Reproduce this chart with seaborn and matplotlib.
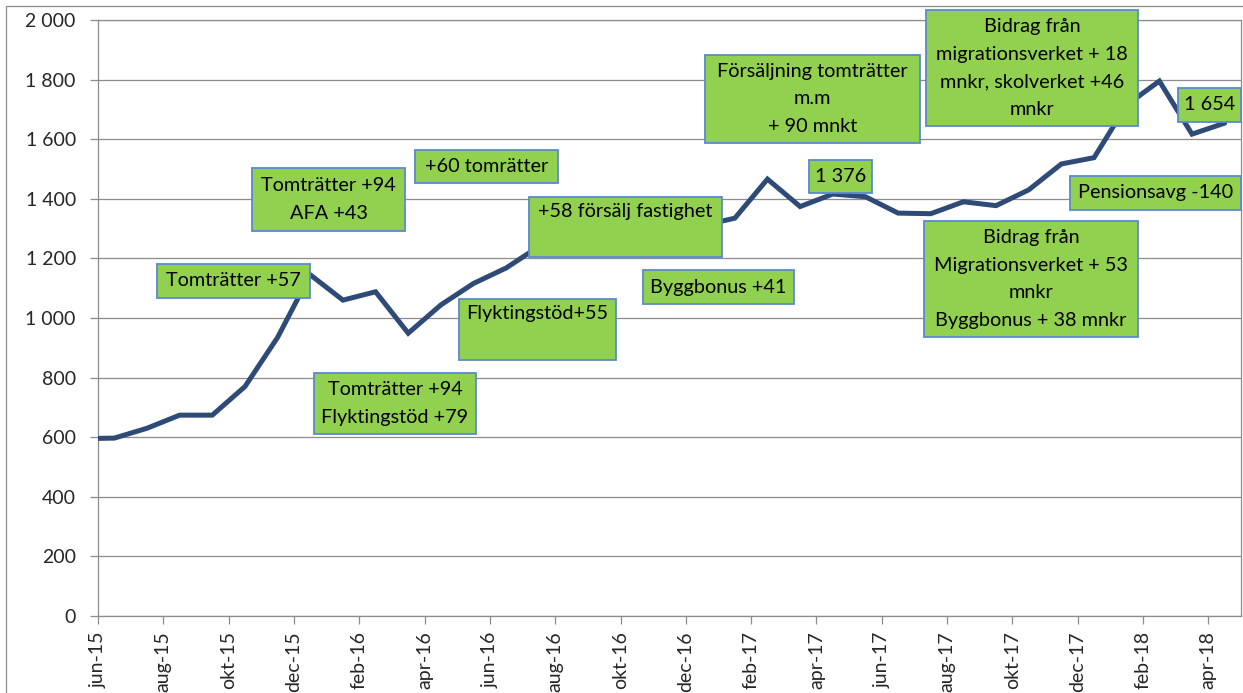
import numpy as np
import pandas as pd
import matplotlib
matplotlib.use("Agg")
from matplotlib import pyplot as plt
from matplotlib.patches import Rectangle
import seaborn as sns

# monthly series, maj-15 .. apr-18 (first month only enters at the left edge)
months = ["maj-15", "jun-15", "jul-15", "aug-15", "sep-15", "okt-15", "nov-15", "dec-15",
          "jan-16", "feb-16", "mar-16", "apr-16", "maj-16", "jun-16", "jul-16", "aug-16",
          "sep-16", "okt-16", "nov-16", "dec-16", "jan-17", "feb-17", "mar-17", "apr-17",
          "maj-17", "jun-17", "jul-17", "aug-17", "sep-17", "okt-17", "nov-17", "dec-17",
          "jan-18", "feb-18", "mar-18", "apr-18"]
values = [595, 597, 630, 674, 674, 770, 935, 1145,
          1060, 1088, 949, 1044, 1116, 1168, 1240, 1290,
          1285, 1300, 1295, 1310, 1335, 1466, 1374, 1416,
          1407, 1352, 1350, 1390, 1377, 1430, 1517, 1538,
          1715, 1795, 1617, 1654]
y_ticks = [0, 200, 400, 600, 800, 1000, 1200, 1400, 1600, 1800, 2000]

# annotation boxes: pixel extents (left, top, right, bottom), text, text placement
notes = [
    ((157, 264, 310, 298), "Tomträtter +57", "center"),
    ((314, 373, 476, 434), "Tomträtter +94\nFlyktingstöd +79", "center"),
    ((459, 299, 616, 360), "Flyktingstöd+55", "top"),
    ((252, 168, 405, 231), "Tomträtter +94\nAFA +43", "center"),
    ((415, 150, 558, 183), "+60 tomrätter", "center"),
    ((529, 197, 722, 257), "+58 försälj fastighet", "top"),
    ((643, 270, 794, 304), "Byggbonus +41", "center"),
    ((809, 160, 872, 193), "1 376", "center"),
    ((705, 55, 920, 143), "Försäljning tomträtter\nm.m\n+ 90 mnkt", "center"),
    ((926, 10, 1138, 126), "Bidrag från\nmigrationsverket + 18\nmnkr, skolverket +46\nmnkr", "center"),
    ((1178, 88, 1241, 122), "1 654", "center"),
    ((1070, 176, 1241, 210), "Pensionsavg -140", "center"),
    ((924, 221, 1138, 337), "Bidrag från\nMigrationsverket + 53\nmnkr\nByggbonus + 38 mnkr", "center"),
]

W, H = 1243, 693
AX_L, AX_R, AX_T, AX_B = 98, 1241, 20, 616

sns.set_style("white")
plt.rcParams['font.family'] = ['Lato', 'DejaVu Sans']

df = pd.DataFrame({"pos": np.arange(len(months)), "value": values})

fig = plt.figure(figsize=(W / 100, H / 100), dpi=100)
ax = fig.add_axes([AX_L / W, (H - AX_B) / H, (AX_R - AX_L) / W, (AX_B - AX_T) / H])

sns.lineplot(data=df, x="pos", y="value", ax=ax, color="#2E4A76", linewidth=3.6,
             solid_joinstyle="miter", zorder=3)

ax.set_xlim(0.5, len(months) - 0.5)
ax.set_ylim(0, 2000)
ax.set_yticks(y_ticks)
ax.set_yticklabels([f"{v:,}".replace(",", " ") for v in y_ticks], fontsize=14)
tick_pos = np.arange(0.5, len(months) - 0.5, 2)
ax.set_xticks(tick_pos)
ax.set_xticklabels(months[1::2], rotation=90, fontsize=14, va="top", ha="center")
ax.set_xlabel("")
ax.set_ylabel("")

ax.grid(axis="y", color="#8C8C8C", linewidth=0.9, zorder=0)
ax.grid(axis="x", visible=False)
for side in ["left", "bottom", "right", "top"]:
    ax.spines[side].set_visible(True)
    ax.spines[side].set_color("#8C8C8C")
    ax.spines[side].set_linewidth(0.9)
ax.tick_params(axis="both", which="both", length=6, width=0.9, color="#8C8C8C",
               direction="out", left=True, bottom=True)
ax.tick_params(axis="x", pad=5)
ax.tick_params(axis="y", pad=10)


def to_axes(px, py):
    return (px - AX_L) / (AX_R - AX_L), (AX_B - py) / (AX_B - AX_T)


for (l, t, r, b), text, place in notes:
    x0, y1 = to_axes(l, t)
    x1, y0 = to_axes(r, b)
    ax.add_patch(Rectangle((x0, y0), x1 - x0, y1 - y0, transform=ax.transAxes,
                           facecolor="#92D050", edgecolor="#5B8ACB", linewidth=1.3,
                           zorder=5, clip_on=False))
    if place == "center":
        ax.text((x0 + x1) / 2, (y0 + y1) / 2, text, transform=ax.transAxes,
                ha="center", va="center", fontsize=14.3, linespacing=1.75,
                color="black", zorder=6)
    else:
        ax.text((x0 + x1) / 2, y1 - 6 / (AX_B - AX_T), text, transform=ax.transAxes,
                ha="center", va="top", fontsize=14.3, linespacing=1.75,
                color="black", zorder=6)

# outer chart border
fig.patches.append(Rectangle((6 / W, -0.1), 1.2, (H - 6) / H + 0.1, transform=fig.transFigure,
                             fill=False, edgecolor="#8C8C8C", linewidth=0.9))

fig.savefig("out.png", dpi=100)
